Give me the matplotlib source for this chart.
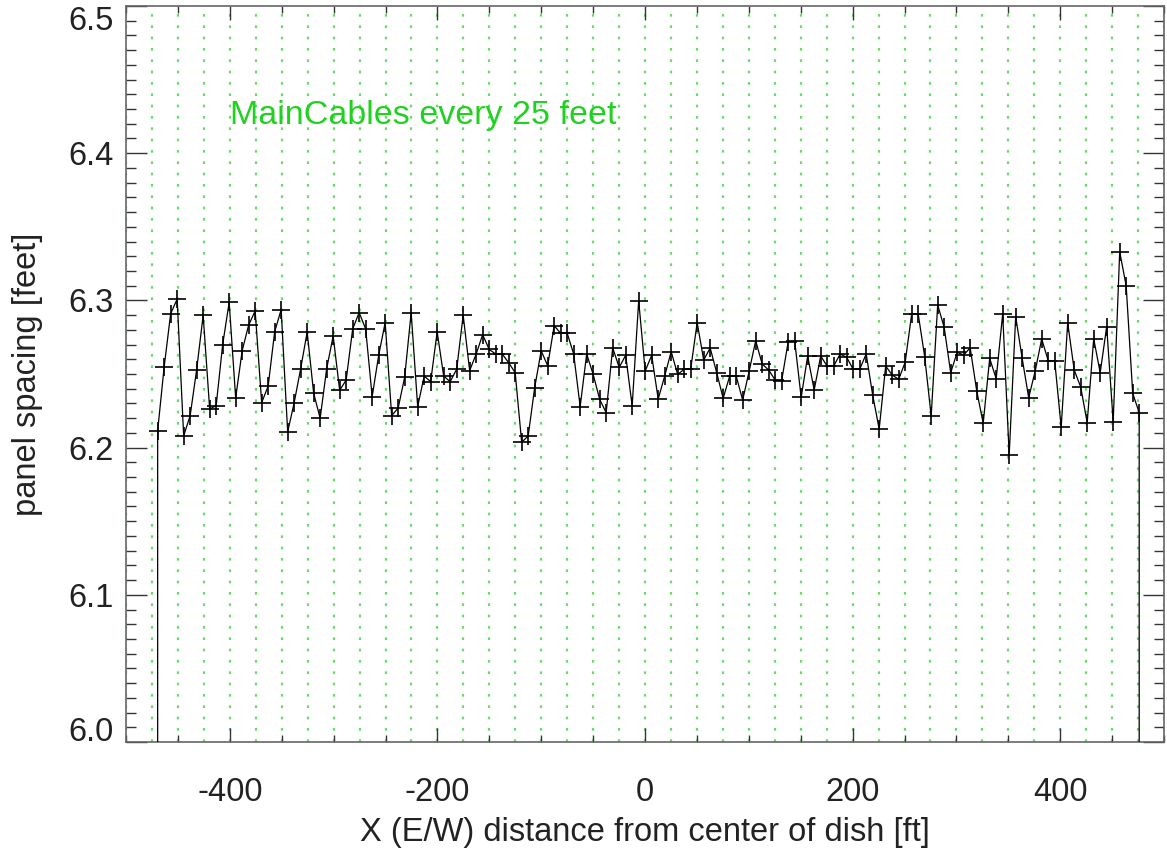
import numpy as np
import matplotlib
matplotlib.use("Agg")
import matplotlib.pyplot as plt
from matplotlib.ticker import MultipleLocator, FixedLocator

plt.rcParams['font.family'] = ['Liberation Sans', 'DejaVu Sans']
plt.rcParams['axes.unicode_minus'] = False

# ---- data ----
x_first = -469.5
x_last = 476.1
spacing = [
    6.2115, 6.2548, 6.2910, 6.3009, 6.2080, 6.2217, 6.2530, 6.2899, 6.2262, 6.2285,
    6.2699, 6.2987, 6.2337, 6.2658, 6.2833, 6.2928, 6.2305, 6.2418, 6.2787, 6.2937,
    6.2106, 6.2305, 6.2536, 6.2785, 6.2369, 6.2199, 6.2536, 6.2758, 6.2389, 6.2459,
    6.2806, 6.2917, 6.2806, 6.2346, 6.2627, 6.2849, 6.2217, 6.2269, 6.2478, 6.2917,
    6.2278, 6.2486, 6.2448, 6.2787, 6.2486, 6.2448, 6.2532, 6.2899, 6.2523, 6.2636,
    6.2767, 6.2667, 6.2636, 6.2636, 6.2577, 6.2509, 6.2036, 6.2079, 6.2407, 6.2658,
    6.2556, 6.2828, 6.2777, 6.2777, 6.2636, 6.2278, 6.2636, 6.2497, 6.2328, 6.2237,
    6.2678, 6.2545, 6.2627, 6.2283, 6.2998, 6.2520, 6.2627, 6.2330, 6.2486, 6.2652,
    6.2497, 6.2532, 6.2532, 6.2849, 6.2595, 6.2677, 6.2509, 6.2335, 6.2486, 6.2486,
    6.2323, 6.2520, 6.2726, 6.2568, 6.2527, 6.2459, 6.2455, 6.2719, 6.2724, 6.2341,
    6.2622, 6.2391, 6.2622, 6.2554, 6.2554, 6.2636, 6.2613, 6.2532, 6.2532, 6.2636,
    6.2357, 6.2126, 6.2554, 6.2493, 6.2464, 6.2580, 6.2908, 6.2908, 6.2618, 6.2215,
    6.2969, 6.2817, 6.2509, 6.2647, 6.2629, 6.2678, 6.2387, 6.2165, 6.2606, 6.2468,
    6.2908, 6.1950, 6.2890, 6.2606, 6.2339, 6.2520, 6.2738, 6.2591, 6.2591, 6.2138,
    6.2849, 6.2527, 6.2412, 6.2169, 6.2740, 6.2509, 6.2822, 6.2176, 6.3331, 6.3098,
    6.2369, 6.2237,
]
end_value = 0.0          # end samples drop off the plot
cable_step = 25          # main cables every 25 feet
x_ticks = [-400, -200, 0, 200, 400]
y_ticks = [6.0, 6.1, 6.2, 6.3, 6.4, 6.5]
note = "MainCables every 25 feet"
xlabel = "X (E/W) distance from center of dish [ft]"
ylabel = "panel spacing [feet]"

xpos = np.linspace(x_first, x_last, len(spacing))
xs = np.concatenate([[xpos[0]], xpos, [xpos[-1]]])
ys = np.concatenate([[end_value], spacing, [end_value]])

# ---- figure ----
W, H, DPI = 1167, 861, 100
fig = plt.figure(figsize=(W / DPI, H / DPI), dpi=DPI)
ax = fig.add_axes([126 / W, 1 - 742 / H, (1164 - 126) / W, (742 - 6) / H])
ax.set_xlim(-500, 500)
ax.set_ylim(6.0, 6.5)

green = '#66dd66'
for xc in np.arange(-500, 500 + 1, cable_step):
    ax.axvline(xc, color=green, lw=1.6, linestyle=(0, (1.2, 3.9)), zorder=1)

ax.plot(xs, ys, color='black', lw=0.9, marker='+', markersize=12.5,
        markeredgewidth=1.2, zorder=3)

ax.text(-400, 6.42, note, color='#22d022', fontsize=24.5, ha='left', va='baseline')

spine_col = '#666666'
for s in ax.spines.values():
    s.set_color(spine_col)
    s.set_linewidth(1.2)

ax.xaxis.set_major_locator(FixedLocator(x_ticks))
ax.xaxis.set_minor_locator(MultipleLocator(50))
ax.yaxis.set_major_locator(FixedLocator(y_ticks))
ax.yaxis.set_minor_locator(MultipleLocator(0.01))
ax.set_xticklabels([str(v) for v in x_ticks])
ylab = ['%.1f' % v for v in y_ticks]
ylab[0] = ''
ylab[-1] = ''
ax.set_yticklabels(ylab)

fs = 23.5
ax.tick_params(axis='both', which='both', direction='in', top=True, right=True,
               color='#333333', width=1.0, labelcolor='#222222', labelsize=fs)
ax.tick_params(axis='x', which='major', length=10, pad=25)
ax.tick_params(axis='x', which='minor', length=5)
ax.tick_params(axis='y', which='major', length=15, pad=9)
ax.tick_params(axis='y', which='minor', length=7.5)

# end labels of the y axis are kept inside the plot range
ax.annotate('%.1f' % y_ticks[-1], xy=(0, y_ticks[-1]),
            xycoords=('axes fraction', 'data'), xytext=(-9, -11),
            textcoords='offset points', ha='right', va='center',
            fontsize=fs, color='#222222')
ax.annotate('%.1f' % y_ticks[0], xy=(0, y_ticks[0]),
            xycoords=('axes fraction', 'data'), xytext=(-9, 6.5),
            textcoords='offset points', ha='right', va='center',
            fontsize=fs, color='#222222')

ax.set_xlabel(xlabel, fontsize=fs, color='#222222', labelpad=7)
ax.set_ylabel(ylabel, fontsize=fs, color='#222222', labelpad=18)

fig.savefig('out.png', dpi=DPI)
